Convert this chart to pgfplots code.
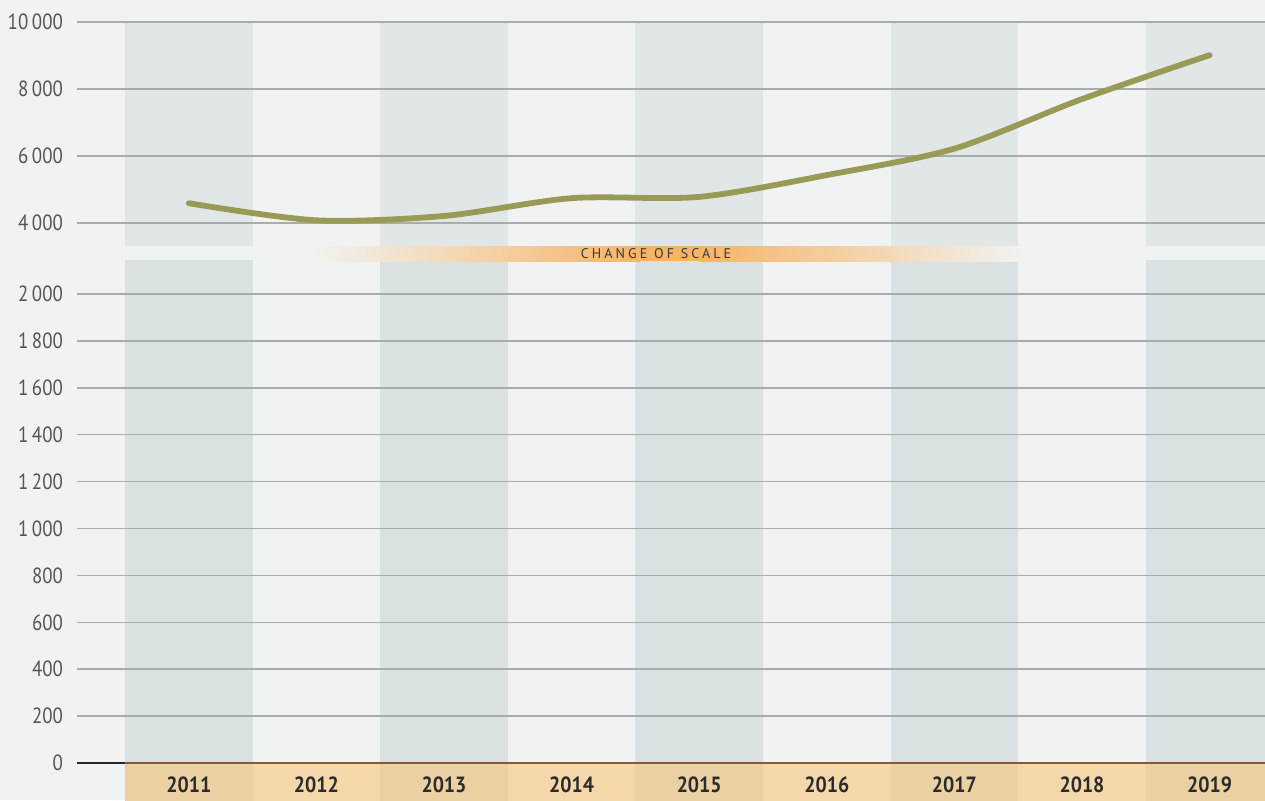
\documentclass[border=0pt]{standalone}
\usepackage{pgfplots}
\pgfplotsset{compat=1.18}
\usepackage{fontspec}
\setmainfont{PT Sans}
\newfontfamily\tickfam{PT Sans}[FakeStretch=0.86]
\newfontfamily\yearfam{PT Sans Bold}[FakeStretch=0.9]
\newfontfamily\scalefam{PT Sans}[LetterSpace=22]
\definecolor{bg}{HTML}{F1F3F2}
\definecolor{bandU}{HTML}{E1E7E7}
\definecolor{bandL}{HTML}{DAE1E3}
\definecolor{tanA}{HTML}{EBD1A2}
\definecolor{tanB}{HTML}{F4D8A9}
\definecolor{gridc}{HTML}{A8ACAC}
\definecolor{tickc}{HTML}{555555}
\definecolor{yearc}{HTML}{2B2B2B}
\definecolor{olivec}{HTML}{9A9A57}
\definecolor{orangec}{HTML}{F5B466}
\definecolor{brownc}{HTML}{8A5A2A}
\definecolor{scalec}{HTML}{3A3A3A}
\begin{document}
\begin{tikzpicture}[x=1pt,y=1pt]
\fill[bg] (0,0) rectangle (632.5,400);
% upper axis
\begin{axis}[
  at={(38.5pt,277.15pt)}, anchor=south west, scale only axis,
  width=594pt, height=111.85pt,
  xmin=2010.124, xmax=2019.434, ymin=3322, ymax=10000,
  axis line style={draw=none}, major tick length=0pt,
  xtick=\empty, ytick={4000,6000,8000,10000},
  scaled y ticks=false,
  yticklabel style={font=\tickfam\fontsize{11}{12}\selectfont, text=tickc, anchor=east, xshift=-3.5pt},
  /pgf/number format/.cd, fixed, 1000 sep={\,}, assume math mode=true,
]
\addplot[draw=none, fill=bandU] coordinates {(2010.5,3322) (2011.5,3322) (2011.5,10000) (2010.5,10000)};
\addplot[draw=none, fill=bandU] coordinates {(2012.5,3322) (2013.5,3322) (2013.5,10000) (2012.5,10000)};
\addplot[draw=none, fill=bandU] coordinates {(2014.5,3322) (2015.5,3322) (2015.5,10000) (2014.5,10000)};
\addplot[draw=none, fill=bandU] coordinates {(2016.5,3322) (2017.5,3322) (2017.5,10000) (2016.5,10000)};
\addplot[draw=none, fill=bandU] coordinates {(2018.5,3322) (2019.434,3322) (2019.434,10000) (2018.5,10000)};
\pgfplotsinvokeforeach{4000,6000,8000,10000}{
  \addplot[draw=gridc, line width=0.75pt] coordinates {(2010.124,#1) (2019.434,#1)};
}
\addplot[smooth, color=olivec, line width=2.9pt, line cap=round] coordinates {
 (2011,4590) (2012,4080) (2013,4210) (2014,4740) (2015,4780) (2016,5430) (2017,6220) (2018,7700) (2019,9010)};
\end{axis}
% lower axis
\begin{axis}[
  at={(38.5pt,18.5pt)}, anchor=south west, scale only axis,
  width=594pt, height=251.5pt, clip=false, axis on top,
  xmin=2010.124, xmax=2019.434, ymin=0, ymax=2145,
  axis line style={draw=none}, major tick length=0pt,
  xtick={2011,2012,2013,2014,2015,2016,2017,2018,2019},
  xticklabels={2011,2012,2013,2014,2015,2016,2017,2018,2019},
  xticklabel style={font=\yearfam\fontsize{11}{12}\selectfont, text=yearc, anchor=center, yshift=-11pt},
  ytick={0,200,...,2000},
  scaled y ticks=false,
  yticklabel style={font=\tickfam\fontsize{11}{12}\selectfont, text=tickc, anchor=east, xshift=-3.5pt},
  /pgf/number format/.cd, fixed, 1000 sep={\,}, assume math mode=true,
]
\addplot[draw=none, fill=bandL] coordinates {(2010.5,0) (2011.5,0) (2011.5,2145) (2010.5,2145)};
\addplot[draw=none, fill=bandL] coordinates {(2012.5,0) (2013.5,0) (2013.5,2145) (2012.5,2145)};
\addplot[draw=none, fill=bandL] coordinates {(2014.5,0) (2015.5,0) (2015.5,2145) (2014.5,2145)};
\addplot[draw=none, fill=bandL] coordinates {(2016.5,0) (2017.5,0) (2017.5,2145) (2016.5,2145)};
\addplot[draw=none, fill=bandL] coordinates {(2018.5,0) (2019.434,0) (2019.434,2145) (2018.5,2145)};
\pgfplotsinvokeforeach{200,400,...,2000}{
  \addplot[draw=gridc, line width=0.75pt] coordinates {(2010.124,#1) (2019.434,#1)};
}
% tan strip
\addplot[draw=none, fill=tanA] coordinates {(2010.5,-160) (2011.5,-160) (2011.5,0) (2010.5,0)};
\addplot[draw=none, fill=tanB] coordinates {(2011.5,-160) (2012.5,-160) (2012.5,0) (2011.5,0)};
\addplot[draw=none, fill=tanA] coordinates {(2012.5,-160) (2013.5,-160) (2013.5,0) (2012.5,0)};
\addplot[draw=none, fill=tanB] coordinates {(2013.5,-160) (2014.5,-160) (2014.5,0) (2013.5,0)};
\addplot[draw=none, fill=tanA] coordinates {(2014.5,-160) (2015.5,-160) (2015.5,0) (2014.5,0)};
\addplot[draw=none, fill=tanB] coordinates {(2015.5,-160) (2016.5,-160) (2016.5,0) (2015.5,0)};
\addplot[draw=none, fill=tanA] coordinates {(2016.5,-160) (2017.5,-160) (2017.5,0) (2016.5,0)};
\addplot[draw=none, fill=tanB] coordinates {(2017.5,-160) (2018.5,-160) (2018.5,0) (2017.5,0)};
\addplot[draw=none, fill=tanA] coordinates {(2018.5,-160) (2019.434,-160) (2019.434,0) (2018.5,0)};
% zero line
\addplot[draw=black!85, line width=0.6pt] coordinates {(2010.124,0) (2010.5,0)};
\addplot[draw=brownc, line width=0.6pt] coordinates {(2010.5,0) (2019.434,0)};
\end{axis}
% change of scale band
\shade[left color=bg, right color=orangec] (155,269.5) rectangle (320,277);
\fill[orangec] (319.5,269.5) rectangle (350.5,277);
\shade[left color=orangec, right color=bg] (350,269.5) rectangle (512,277);
\node[font=\scalefam\fontsize{7}{8}\selectfont, text=scalec, inner sep=0pt] at (328,273.25) {CHANGE OF SCALE};
\pgfresetboundingbox
\useasboundingbox (0,0) rectangle (632.5,400);
\end{tikzpicture}
\end{document}
